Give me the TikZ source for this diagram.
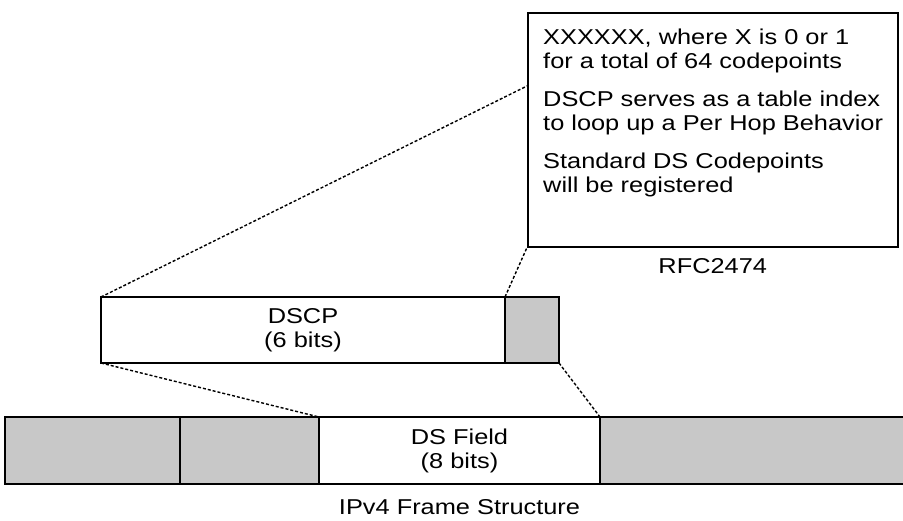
\documentclass[tikz,border=0pt]{standalone}
\usepackage{fontspec}
\setmainfont{Liberation Sans}[FakeStretch=1.18]
\usepackage{tikz}
\usetikzlibrary{positioning}
\definecolor{FieldGrey}{RGB}{200,200,200}

\begin{document}
\begin{tikzpicture}[x=1pt, y=-1pt, font=\fontsize{21.5}{24}\selectfont,
    field/.style={draw, line width=1.5pt, minimum height=67, inner sep=0pt, outer sep=0pt, anchor=north west},
    zoomline/.style={line width=1.4pt, dash pattern=on 3pt off 2pt}]
    % Rahmen
    \clip (0,0) rectangle (903,520);

    % IPv4-Rahmen
    \node[field, fill=FieldGrey, minimum width=175] (hdra) at (5,417) {};
    \node[field, fill=FieldGrey, minimum width=139, right=0pt of hdra] (hdrb) {};
    \node[field, fill=white, minimum width=281, right=0pt of hdrb, align=center] (dsfield) {DS Field\\(8 bits)};
    \node[field, fill=FieldGrey, minimum width=320, right=0pt of dsfield] (rest) {};
    \node[below=12pt of dsfield] (frametitle) {IPv4 Frame Structure};

    % DSCP
    \node[field, fill=white, minimum width=404, minimum height=66, align=center] (dscp) at (101,297) {DSCP\\(6 bits)};
    \node[field, fill=FieldGrey, minimum width=54, minimum height=66, right=0pt of dscp] (cu) {};

    % Erklaerung
    \node[draw, line width=1.5pt, minimum width=370, minimum height=234, anchor=north west] (info) at (527,12) {};
    \node[anchor=north west, align=left, inner sep=0pt] (infotext) at ([xshift=16pt, yshift=-17pt]info.north west)
        {XXXXXX, where X is 0 or 1\\for a total of 64 codepoints\\[14pt]
         DSCP serves as a table index\\to loop up a Per Hop Behavior\\[14pt]
         Standard DS Codepoints\\will be registered};
    \node[below=7pt of info] (rfc) {RFC2474};

    % Zoomlinien
    \coordinate (infohit) at (527,86);
    \draw[zoomline] (dscp.north west) -- (infohit);
    \draw[zoomline] (dscp.north east) -- (info.south west);
    \draw[zoomline] (dscp.south west) -- (dsfield.north west);
    \draw[zoomline] (cu.south east) -- (dsfield.north east);
\end{tikzpicture}
\end{document}
